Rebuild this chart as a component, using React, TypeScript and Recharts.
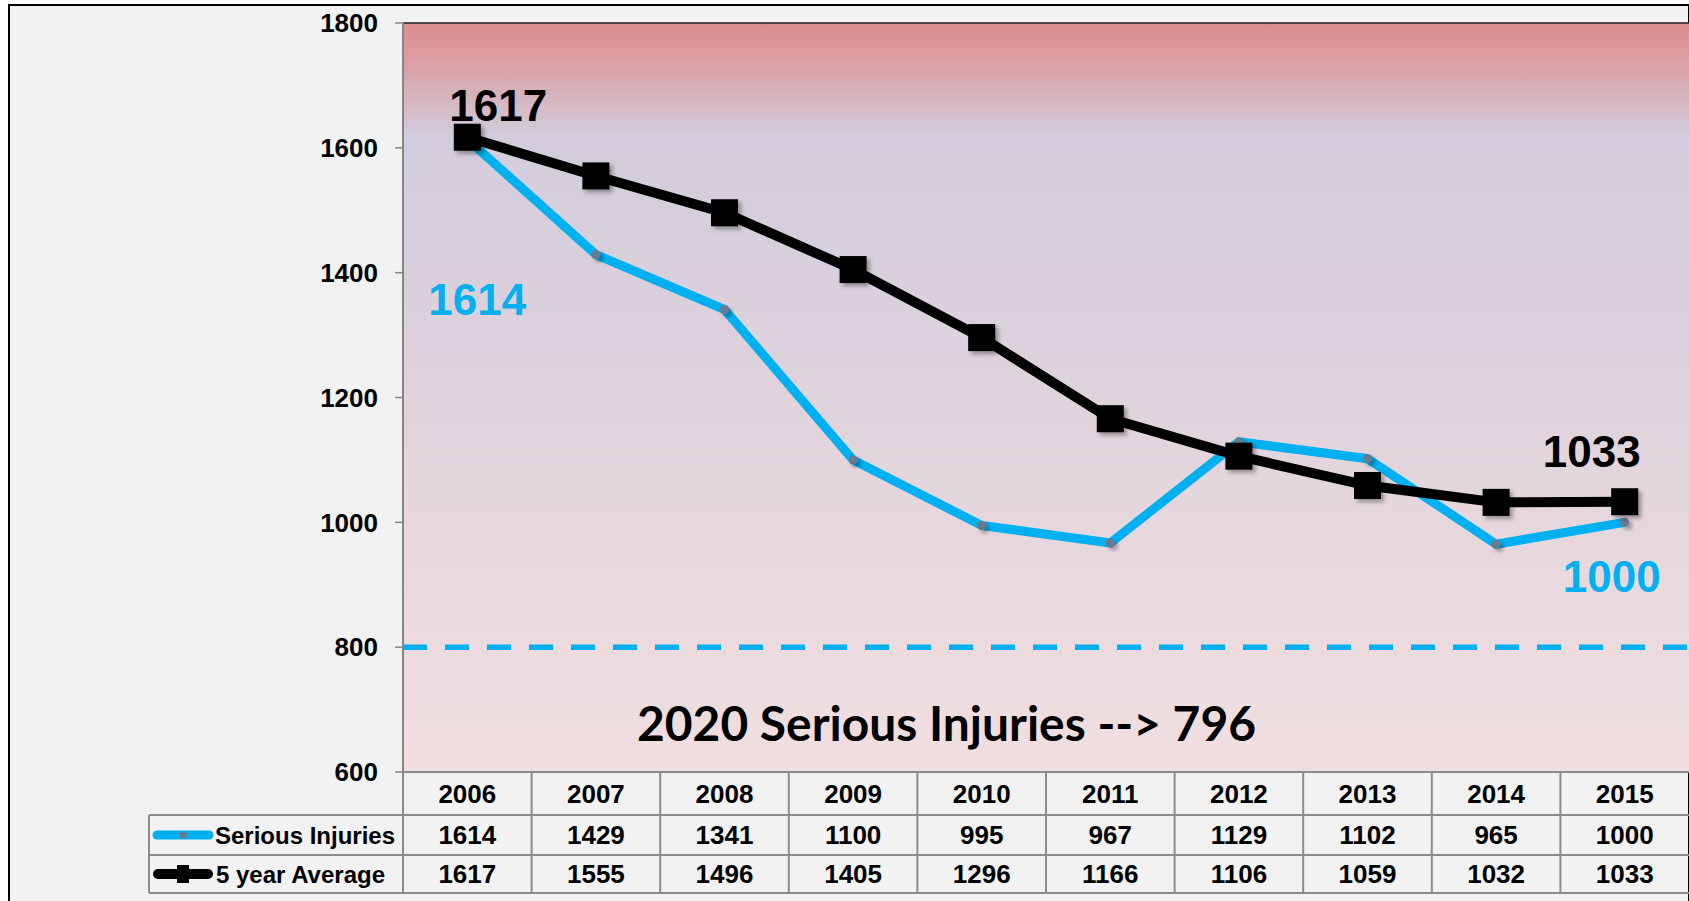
import {
  CartesianGrid,
  Customized,
  LabelList,
  Line,
  LineChart,
  ReferenceLine,
  XAxis,
  YAxis,
} from "recharts";

const years = ["2006", "2007", "2008", "2009", "2010", "2011", "2012", "2013", "2014", "2015"];
const seriousInjuries = [1614, 1429, 1341, 1100, 995, 967, 1129, 1102, 965, 1000];
const fiveYearAverage = [1617, 1555, 1496, 1405, 1296, 1166, 1106, 1059, 1032, 1033];
const yTicks = [600, 800, 1000, 1200, 1400, 1600, 1800];
const seriesNames = ["Serious Injuries", "5 year Average"];
const targetLine = 800;
const targetText = "2020 Serious Injuries --> 796";

const data = years.map((year, i) => ({
  year,
  serious: seriousInjuries[i],
  average: fiveYearAverage[i],
}));

const W = 1689;
const H = 901;
const PLOT_LEFT = 403;
const PLOT_TOP = 23;
const PLOT_BOTTOM = 772;
const BAND = (W - PLOT_LEFT) / years.length;
const ROW1 = 815;
const ROW2 = 855;
const ROW3 = 893;
const TABLE_LEFT = 149;

const BLUE = "#00b0f0";
const GRID = "#8c8c8c";
const FONT = "'Liberation Sans', Arial, sans-serif";

const numStyle = { fontFamily: FONT, fontSize: 26, fontWeight: 700, fill: "#000" };

// label offsets (dx, dy) for first and last points
const avgLabelPos: Record<number, [number, number]> = { 0: [31, -32], 9: [-33, -50] };
const seriousLabelPos: Record<number, [number, number]> = { 0: [10, 160], 9: [-13, 54] };

function TableColumn(props: any) {
  const { x, payload } = props;
  const i = payload.index;
  const left = x - BAND / 2;
  return (
    <g>
      <line x1={left} x2={left} y1={PLOT_BOTTOM} y2={ROW3} stroke={GRID} strokeWidth={2} />
      <text x={x} y={(PLOT_BOTTOM + ROW1) / 2} textAnchor="middle" dominantBaseline="central" {...numStyle}>
        {payload.value}
      </text>
      <text x={x} y={(ROW1 + ROW2) / 2} textAnchor="middle" dominantBaseline="central" {...numStyle}>
        {seriousInjuries[i]}
      </text>
      <text x={x} y={(ROW2 + ROW3) / 2} textAnchor="middle" dominantBaseline="central" {...numStyle}>
        {fiveYearAverage[i]}
      </text>
    </g>
  );
}

function SquareDot(props: any) {
  const { cx, cy, index } = props;
  if (cx == null || cy == null) return <g key={index} />;
  return (
    <rect key={index} x={cx - 13.5} y={cy - 13.5} width={27} height={27} fill="#000" filter="url(#markShadow)" />
  );
}

function SmallDot(props: any) {
  const { cx, cy, index } = props;
  if (cx == null || cy == null) return <g key={index} />;
  return <circle key={index} cx={cx} cy={cy} r={4.5} fill="#6a7890" filter="url(#markShadow)" />;
}

function endLabel(pos: Record<number, [number, number]>, color: string) {
  return (props: any) => {
    const { x, y, value, index } = props;
    const p = pos[index];
    if (!p) return null;
    return (
      <text
        x={x + p[0]}
        y={y + p[1]}
        textAnchor="middle"
        dominantBaseline="central"
        fontFamily={FONT}
        fontSize={44}
        fontWeight={700}
        fill={color}
      >
        {value}
      </text>
    );
  };
}

function Overlay() {
  return (
    <g>
      <line x1={PLOT_LEFT} x2={W} y1={PLOT_TOP} y2={PLOT_TOP} stroke="#222" strokeWidth={1.5} />
      {[ROW1, ROW2, ROW3].map((y) => (
        <line key={y} x1={TABLE_LEFT} x2={W} y1={y} y2={y} stroke={GRID} strokeWidth={2} />
      ))}
      <line x1={TABLE_LEFT} x2={TABLE_LEFT} y1={ROW1} y2={ROW3} stroke={GRID} strokeWidth={2} />
      {/* legend keys */}
      <line x1={157} x2={209} y1={(ROW1 + ROW2) / 2} y2={(ROW1 + ROW2) / 2} stroke={BLUE} strokeWidth={9} strokeLinecap="round" />
      <circle cx={183} cy={(ROW1 + ROW2) / 2} r={3.5} fill="#6a7890" />
      <line x1={158} x2={208} y1={(ROW2 + ROW3) / 2} y2={(ROW2 + ROW3) / 2} stroke="#000" strokeWidth={10} strokeLinecap="round" />
      <rect x={177} y={(ROW2 + ROW3) / 2 - 9} width={12} height={18} fill="#000" />
      <text x={215} y={(ROW1 + ROW2) / 2} dominantBaseline="central" fontFamily={FONT} fontSize={24} fontWeight={700}>
        {seriesNames[0]}
      </text>
      <text x={216} y={(ROW2 + ROW3) / 2} dominantBaseline="central" fontFamily={FONT} fontSize={24} fontWeight={700}>
        {seriesNames[1]}
      </text>
      <text
        x={637}
        y={741}
        fontFamily="Lato, 'Open Sans', sans-serif"
        fontSize={47}
        fontWeight={700}
        textLength={619}
        lengthAdjust="spacingAndGlyphs"
        fill="#000"
      >
        {targetText}
      </text>
    </g>
  );
}

export default function App() {
  return (
    <div style={{ position: "absolute", left: 0, top: 0, width: W, height: H, background: "#fff", overflow: "hidden" }}>
      <div
        style={{
          position: "absolute",
          left: 8,
          top: 4,
          width: 1678,
          height: 920,
          background: "#f2f2f2",
          border: "2px solid #000",
        }}
      />
      <div style={{ position: "absolute", left: 0, top: 0 }}>
        <LineChart width={W} height={H} data={data} margin={{ top: PLOT_TOP, right: 0, bottom: 8, left: 0 }}>
          <defs>
            <linearGradient id="plotBg" x1="0" y1="0" x2="0" y2="1">
              <stop offset="0%" stopColor="#dc8e8e" />
              <stop offset="5%" stopColor="#da9ea3" />
              <stop offset="10%" stopColor="#d6b5be" />
              <stop offset="15%" stopColor="#d2ccdc" />
              <stop offset="55%" stopColor="#e1d4dc" />
              <stop offset="100%" stopColor="#f1dfe0" />
            </linearGradient>
            <filter id="markShadow" x="-50%" y="-50%" width="200%" height="200%">
              <feDropShadow dx={3} dy={3} stdDeviation={2} floodColor="#000" floodOpacity={0.35} />
            </filter>
          </defs>
          <CartesianGrid fill="url(#plotBg)" stroke="none" horizontal={false} vertical={false} />
          <XAxis
            dataKey="year"
            height={121}
            interval={0}
            padding={{ left: BAND / 2, right: BAND / 2 }}
            axisLine={{ stroke: GRID, strokeWidth: 2 }}
            tickLine={false}
            tick={(p: any) => <TableColumn {...p} />}
          />
          <YAxis
            type="number"
            width={PLOT_LEFT}
            domain={[600, 1800]}
            ticks={yTicks}
            interval={0}
            tickSize={8}
            tickMargin={17}
            axisLine={{ stroke: "#868686", strokeWidth: 2 }}
            tickLine={{ stroke: "#868686", strokeWidth: 1.5 }}
            tick={numStyle}
          />
          <ReferenceLine y={targetLine} stroke={BLUE} strokeWidth={5.5} strokeDasharray="24 18" />
          <Line
            dataKey="serious"
            name={seriesNames[0]}
            stroke={BLUE}
            strokeWidth={9}
            dot={(p: any) => <SmallDot {...p} />}
            activeDot={false}
            isAnimationActive={false}
          >
            <LabelList dataKey="serious" content={endLabel(seriousLabelPos, BLUE)} />
          </Line>
          <Line
            dataKey="average"
            name={seriesNames[1]}
            stroke="#000"
            strokeWidth={10}
            dot={(p: any) => <SquareDot {...p} />}
            activeDot={false}
            isAnimationActive={false}
          >
            <LabelList dataKey="average" content={endLabel(avgLabelPos, "#000")} />
          </Line>
          <Customized component={Overlay} />
        </LineChart>
      </div>
    </div>
  );
}
